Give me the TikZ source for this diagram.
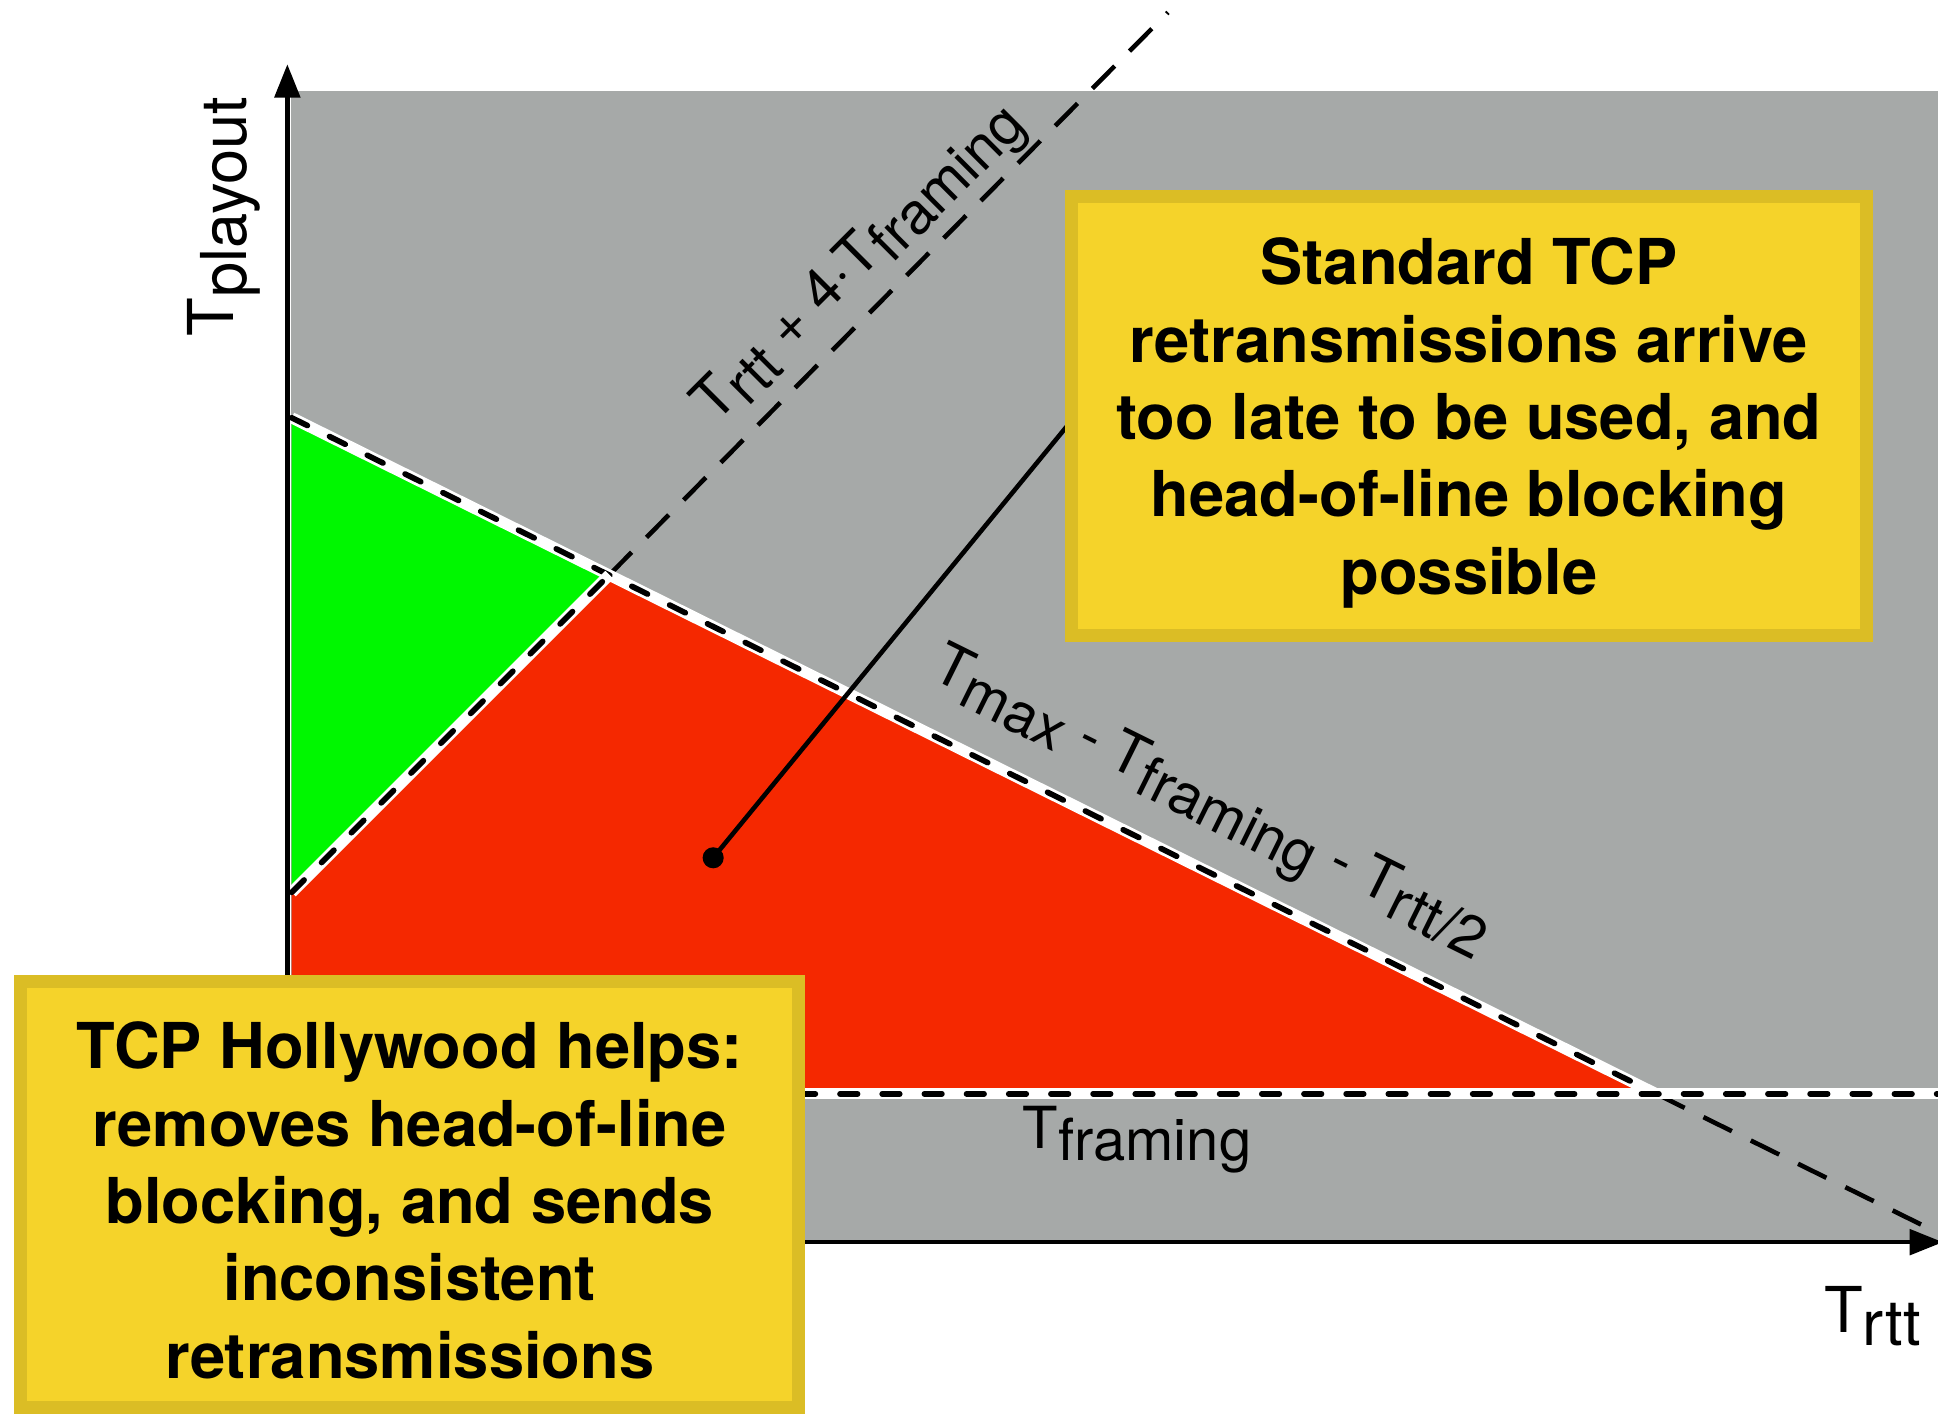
\documentclass[tikz,border=0pt]{standalone}
\usepackage{fontspec}
\setmainfont{TeX Gyre Heros}
\usetikzlibrary{arrows.meta}
\definecolor{bggray}{RGB}{166,169,168}
\definecolor{zgreen}{RGB}{0,247,0}
\definecolor{zred}{RGB}{245,40,0}
\definecolor{boxfill}{RGB}{245,211,42}
\definecolor{boxedge}{RGB}{219,189,37}
\newcommand{\lowr}[1]{\raisebox{-0.2em}{#1}}
\begin{document}
\begin{tikzpicture}[x=0.01236cm,y=-0.01236cm,
  bound/.style={line width=1.6pt, line cap=round, dash pattern=on 5pt off 7pt,
    preaction={draw=white, line width=3.2pt, solid}},
  thindash/.style={line width=1.3pt, dash pattern=on 9pt off 6pt},
  axisline/.style={line width=1.3pt, -{Triangle[length=9.5pt,width=7.2pt]}},
  lbl/.style={font=\fontsize{16.5}{19}\selectfont, inner sep=0pt},
  axlbl/.style={font=\fontsize{18}{21}\selectfont, inner sep=0pt},
  callout/.style={draw=boxedge, fill=boxfill, line width=3.7pt, inner sep=0pt},
  callouttext/.style={inner sep=0pt, align=center, font=\fontsize{18}{22}\selectfont\bfseries},
]
\useasboundingbox (0,0) rectangle (1568,1144);

% key points
\coordinate (A) at (236,338);
\coordinate (X) at (493,465);
\coordinate (B) at (236,722);
\coordinate (P) at (1340,885);
\coordinate (F0) at (236,885);
\coordinate (F1) at (1568,885);
\coordinate (D1) at (945,10);
\coordinate (E1) at (1565,996);

% regions
\fill[bggray] (235.5,74) rectangle (1568,1004);
\fill[zgreen] (A) -- (X) -- (B) -- cycle;
\fill[zred] (B) -- (X) -- (P) -- (F0) -- cycle;

% boundary lines
\draw[thindash] (X) -- (D1);
\draw[thindash] (P) -- (E1);
\draw[bound] (A) -- (P);
\draw[bound] (B) -- (X);
\draw[bound] (F0) -- (F1);

% labels
\node[lbl, rotate=45] (dlab) at (697,215) {T\lowr{rtt} + 4·T\lowr{framing}};
\node[lbl, rotate=-26.4] (mlab) at (978,652) {T\lowr{max} - T\lowr{framing} - T\lowr{rtt/2}};
\node[lbl] (flab) at (920,922) {T\lowr{framing}};

% axes
\coordinate (O) at (232.5,1005);
\coordinate (Ytop) at (232.5,52);
\coordinate (Xend) at (1572,1005);
\draw[axisline] (O) -- (Ytop);
\draw[axisline] (O) -- (Xend);
\node[axlbl, rotate=90] (ylab) at (181,175) {T\lowr{playout}};
\node[axlbl] (xlab) at (1515,1065) {T\lowr{rtt}};

% pointer
\node[circle, fill=black, inner sep=0pt, minimum size=6pt] (dot) at (577,694) {};
\coordinate (ptr) at (868,339);
\draw[line width=1.3pt] (dot.center) -- (ptr);

% callouts
\node[callout, minimum width=226pt, minimum height=124.7pt] (std) at (1188.5,336.5) {};
\node[callouttext] (stdtext) at ([yshift=-2pt]std.center)
  {Standard TCP\\retransmissions arrive\\too late to be used, and\\head-of-line blocking\\possible};
\node[callout, minimum width=221.2pt, minimum height=121.3pt] (hw) at (331.5,966.5) {};
\node[callouttext] (hwtext) at ([yshift=-1.6pt]hw.center)
  {TCP Hollywood helps:\\removes head-of-line\\blocking, and sends\\inconsistent\\retransmissions};
\end{tikzpicture}
\end{document}
